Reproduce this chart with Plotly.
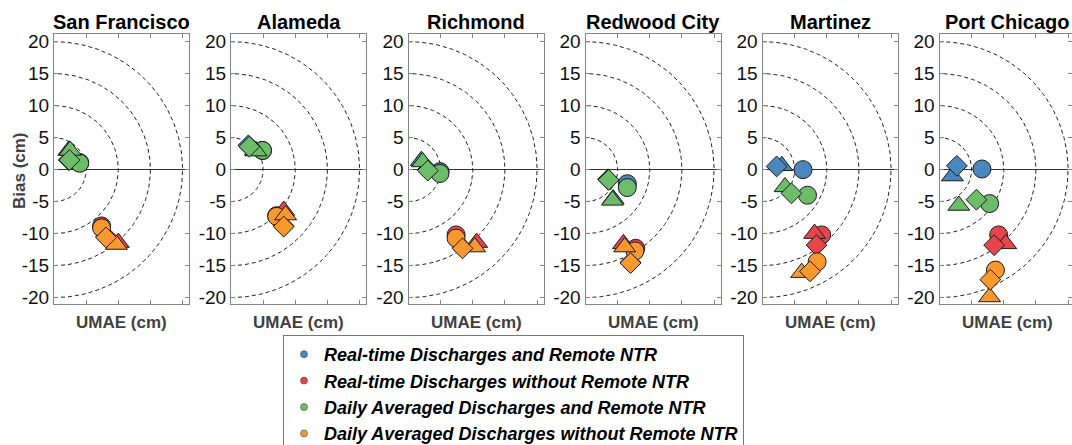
import numpy as np
import plotly.graph_objects as go
from plotly.subplots import make_subplots

STATIONS = ["San Francisco", "Alameda", "Richmond", "Redwood City", "Martinez", "Port Chicago"]
SERIES = [
    "Real-time Discharges and Remote NTR",
    "Real-time Discharges without Remote NTR",
    "Daily Averaged Discharges and Remote NTR",
    "Daily Averaged Discharges without Remote NTR",
]
COLORS = ["#4a87bf", "#e5454b", "#6cbc69", "#f8982f"]
SYMBOLS = ["circle", "triangle-up", "diamond"]
SIZES = [18, 19, 16]

RADII = [5, 10, 15, 20]
Y_TICKS = [-20, -15, -10, -5, 0, 5, 10, 15, 20]
Y_TICKTEXT = ["-20", "-15", "-10", "-5", "0", "5", "10", "15", "20"]
X_TICKS = [5, 10, 15, 20]

# per station: [circle, triangle, diamond]
rt_remote_umae = [[4.0, 2.3, 2.3], [4.9, 3.8, 2.7], [4.9, 2.0, 3.0], [6.5, 4.3, 3.5], [6.3, 3.0, 2.2], [6.6, 2.0, 2.7]]
rt_remote_bias = [[1.1, 3.0, 1.5], [3.0, 3.0, 3.8], [-0.3, 1.4, 0.0], [-2.2, -4.6, -1.5], [0.0, 0.6, 0.5], [0.1, -1.0, 0.6]]

rt_local_umae = [[7.4, 10.0, 8.1], [7.1, 8.2, 8.2], [7.4, 10.6, 8.4], [7.8, 5.9, 7.0], [9.2, 8.1, 8.4], [9.2, 10.3, 8.5]]
rt_local_bias = [[-8.8, -11.4, -10.4], [-7.2, -6.4, -8.8], [-10.2, -11.4, -12.2], [-12.3, -11.6, -14.5], [-10.2, -10.0, -11.8], [-10.2, -11.6, -11.8]]

da_remote_umae = [[4.0, 2.5, 2.4], [4.9, 3.9, 2.85], [4.9, 2.2, 3.0], [6.5, 4.2, 3.6], [7.0, 3.5, 4.5], [7.8, 3.0, 5.75]]
da_remote_bias = [[1.0, 3.0, 1.5], [3.0, 2.9, 3.6], [-0.6, 1.2, -0.15], [-2.8, -4.8, -1.6], [-4.0, -2.7, -3.7], [-5.3, -5.6, -4.7]]

da_local_umae = [[7.4, 9.7, 8.1], [7.1, 8.5, 8.2], [7.4, 10.3, 8.4], [7.7, 6.1, 7.0], [8.5, 6.1, 7.4], [8.7, 7.8, 7.9]]
da_local_bias = [[-9.1, -11.7, -10.6], [-7.3, -7.1, -8.9], [-10.7, -12.1, -12.3], [-12.7, -12.1, -14.6], [-14.4, -16.1, -15.9], [-15.7, -19.9, -17.2]]

UMAE = [rt_remote_umae, rt_local_umae, da_remote_umae, da_local_umae]
BIAS = [rt_remote_bias, rt_local_bias, da_remote_bias, da_local_bias]

W, H = 1072, 445
PANEL_LEFT = [54, 231, 408.5, 585.5, 762.5, 939.5]
PANEL_W = 135
FONT = "Liberation Sans, Arial, sans-serif"
AXIS_GREY = "#858585"

fig = make_subplots(rows=1, cols=6)

theta = np.linspace(-np.pi / 2, np.pi / 2, 181)
for i, st in enumerate(STATIONS):
    for r in RADII:
        fig.add_trace(go.Scatter(x=r * np.cos(theta), y=r * np.sin(theta), mode="lines",
                                 line=dict(color="#222222", width=1, dash="4px,3px"),
                                 showlegend=False, hoverinfo="skip"), row=1, col=i + 1)
    for s in range(len(SERIES)):
        for k, sym in enumerate(SYMBOLS):
            fig.add_trace(go.Scatter(
                x=[UMAE[s][i][k]], y=[BIAS[s][i][k]], mode="markers",
                marker=dict(symbol=sym, size=SIZES[k], color=COLORS[s],
                            line=dict(color="#1a1a1a", width=1)),
                showlegend=False, cliponaxis=True), row=1, col=i + 1)

for s, name in enumerate(SERIES):
    fig.add_trace(go.Scatter(x=[None], y=[None], mode="markers", name=name,
                             marker=dict(symbol="circle", size=7, color=COLORS[s],
                                         line=dict(color="#333333", width=0.5))), row=1, col=1)

for i, st in enumerate(STATIONS):
    x0 = PANEL_LEFT[i] / W
    x1 = min(1.0, (PANEL_LEFT[i] + PANEL_W) / W)
    xr = 21 * (x1 - x0) * W / PANEL_W
    fig.update_xaxes(domain=[x0, x1], range=[0, xr], showgrid=False, zeroline=False,
                     showline=True, linecolor=AXIS_GREY, linewidth=1, mirror="ticks",
                     ticks="inside", ticklen=4, tickcolor=AXIS_GREY, tickvals=X_TICKS,
                     showticklabels=False, row=1, col=i + 1)
    fig.update_yaxes(domain=[1 - 304 / H, 1 - 34 / H], range=[-21, 21.2], showgrid=False,
                     zeroline=True, zerolinecolor="#333333", zerolinewidth=1,
                     showline=True, linecolor=AXIS_GREY, linewidth=1, mirror="ticks",
                     ticks="inside", ticklen=4, tickcolor=AXIS_GREY,
                     tickvals=Y_TICKS, ticktext=Y_TICKTEXT,
                     tickfont=dict(size=19, color="#111111", family=FONT), row=1, col=i + 1)
    xc = (PANEL_LEFT[i] + PANEL_W / 2) / W
    fig.add_annotation(text=st, x=xc, y=1 - 22 / H, xref="paper", yref="paper",
                       showarrow=False, xanchor="center", yanchor="middle",
                       font=dict(size=20, color="#000000", family=FONT, weight="bold"))
    fig.add_annotation(text="UMAE (cm)", x=xc, y=1 - 322 / H, xref="paper", yref="paper",
                       showarrow=False, xanchor="center", yanchor="middle",
                       font=dict(size=17, color="#404040", family=FONT, weight="bold"))

fig.add_annotation(text="Bias (cm)", x=20 / W, y=1 - 171 / H, xref="paper", yref="paper",
                   showarrow=False, textangle=-90, xanchor="center", yanchor="middle",
                   font=dict(size=17, color="#404040", family=FONT, weight="bold"))

fig.update_layout(
    width=W, height=H,
    margin=dict(l=0, r=0, t=0, b=0, autoexpand=False),
    paper_bgcolor="white", plot_bgcolor="white",
    font=dict(family=FONT, color="#000000"),
    showlegend=True,
    legend=dict(x=283 / W, y=1 - 335 / H, xanchor="left", yanchor="top",
                bgcolor="white", bordercolor="#777777", borderwidth=1,
                font=dict(size=18, family=FONT, color="#000000", weight="bold", style="italic")),
)

fig.write_html("out.html", config={"displayModeBar": False},
               post_script="document.body.style.margin='0';")
